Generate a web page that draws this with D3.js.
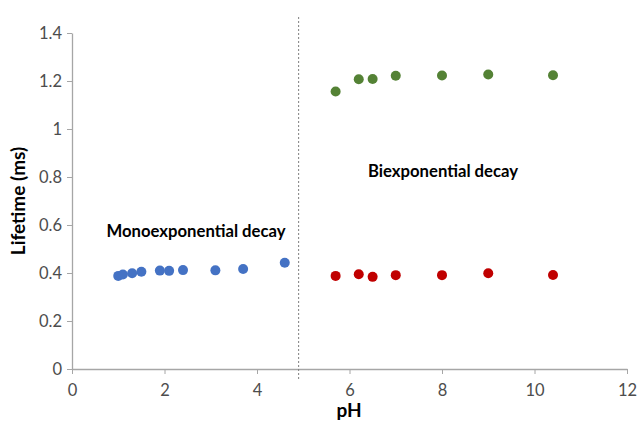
<!DOCTYPE html>
<html>
<head>
<meta charset="utf-8">
<script src="https://cdn.jsdelivr.net/npm/d3@7"></script>
<style>
	body { margin: 0; background: #fff; }
	text { font-family: Lato, "Open Sans", sans-serif; }
</style>
</head>
<body>
<div id="chart"></div>
<script>
	// data
	const monoPH = [1.0, 1.1, 1.3, 1.5, 1.9, 2.1, 2.4, 3.1, 3.7, 4.6];
	const monoLife = [0.388, 0.394, 0.399, 0.405, 0.41, 0.409, 0.412, 0.411, 0.417, 0.443];
	const biPH = [5.7, 6.2, 6.5, 7.0, 8.0, 9.0, 10.4];
	const biLong = [1.156, 1.207, 1.208, 1.222, 1.223, 1.227, 1.224];
	const biShort = [0.388, 0.395, 0.384, 0.391, 0.391, 0.399, 0.392];
	const xTicks = [0, 2, 4, 6, 8, 10, 12];
	const yTicks = [0, 0.2, 0.4, 0.6, 0.8, 1, 1.2, 1.4];
	const boundaryPH = 4.9;

	const width = 637;
	const height = 429;
	const margin = {top: 33, right: 10, bottom: 60, left: 72};

	const x = d3.scaleLinear().domain([0, 12]).range([margin.left, 627]);
	const y = d3.scaleLinear().domain([0, 1.4]).range([369, margin.top]);

	let svg = d3.select("#chart").append("svg")
		.attr("width", width)
		.attr("height", height);

	//axes
	const xAxis = svg.append("g")
		.attr("transform", `translate(0,${y(0)})`)
		.call(d3.axisBottom(x).tickValues(xTicks).tickSize(5).tickSizeOuter(0).tickPadding(10).tickFormat(d3.format("d")));
	const yAxis = svg.append("g")
		.attr("transform", `translate(${x(0)},0)`)
		.call(d3.axisLeft(y).tickValues(yTicks).tickSize(5).tickSizeOuter(0).tickPadding(5).tickFormat(d => d3.format("~g")(d)));

	[xAxis, yAxis].forEach(ax => {
		ax.select(".domain").attr("stroke", "#a6a6a6").attr("stroke-width", 1.3);
		ax.selectAll(".tick line").attr("stroke", "#a6a6a6");
		ax.selectAll(".tick text").attr("fill", "#4d4d4d").style("font-size", "16.5px");
	});

	// dotted boundary line
	svg.append("line")
		.attr("x1", x(boundaryPH)).attr("x2", x(boundaryPH))
		.attr("y1", 17).attr("y2", 380)
		.attr("stroke", "#7f7f7f")
		.attr("stroke-width", 1)
		.attr("stroke-dasharray", "2,2");

	const drawSeries = (xs, ys, color) => {
		svg.append("g").selectAll("circle")
			.data(xs.map((v, i) => [v, ys[i]]))
			.join("circle")
			.attr("cx", d => x(d[0]))
			.attr("cy", d => y(d[1]))
			.attr("r", 5)
			.attr("fill", color);
	};
	drawSeries(monoPH, monoLife, "#4472c4");
	drawSeries(biPH, biLong, "#548235");
	drawSeries(biPH, biShort, "#c00000");

	// annotations
	svg.append("text")
		.attr("x", 196).attr("y", 237)
		.attr("text-anchor", "middle")
		.style("font-size", "16.7px").style("font-weight", "bold")
		.text("Monoexponential decay");
	svg.append("text")
		.attr("x", 443).attr("y", 177)
		.attr("text-anchor", "middle")
		.style("font-size", "16.7px").style("font-weight", "bold")
		.text("Biexponential decay");

	// axis titles
	svg.append("text")
		.attr("x", 349).attr("y", 417)
		.attr("text-anchor", "middle")
		.style("font-size", "19px").style("font-weight", "bold")
		.text("pH");
	svg.append("text")
		.attr("transform", `translate(25,201) rotate(-90)`)
		.attr("text-anchor", "middle")
		.style("font-size", "19px").style("font-weight", "bold")
		.text("Lifetime (ms)");
</script>
</body>
</html>
